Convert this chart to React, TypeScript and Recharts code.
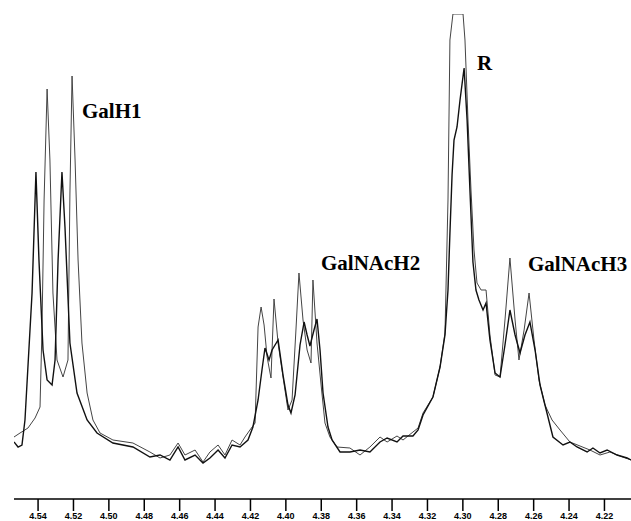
import React from "react";
import { LineChart, Line, XAxis, YAxis } from "recharts";

// chemical shift axis (ppm), high field on the right
const ppmTicks = [4.54, 4.52, 4.5, 4.48, 4.46, 4.44, 4.42, 4.4, 4.38, 4.36, 4.34, 4.32, 4.3, 4.28, 4.26, 4.24, 4.22];

// spectrum 1 (lighter trace, R peak goes off scale)
const ppmA = [
  4.5536, 4.5502, 4.5457, 4.5417, 4.5389, 4.5378, 4.5366, 4.5349, 4.5333, 4.5316, 4.5293, 4.5259, 4.5231, 4.522,
  4.5208, 4.5191, 4.5174, 4.5152, 4.5123, 4.509, 4.505, 4.4977, 4.4864, 4.4768, 4.4711, 4.4655, 4.4609, 4.457,
  4.4513, 4.4468, 4.4429, 4.4383, 4.4344, 4.4304, 4.4259, 4.4231, 4.4203, 4.4174, 4.4157, 4.414, 4.4123, 4.4106,
  4.4084, 4.4067, 4.4044, 4.4016, 4.3988, 4.3965, 4.3943, 4.3926, 4.3903, 4.388, 4.3858, 4.3847, 4.3824, 4.3801,
  4.3779, 4.3751, 4.3711,
  4.3638, 4.3581, 4.3525, 4.3468, 4.3428, 4.3372, 4.3338, 4.3282, 4.3253, 4.3225, 4.3169, 4.3129, 4.3101, 4.3084,
  4.3073, 4.3056, 4.2999, 4.2988, 4.2971, 4.2954, 4.2937, 4.292, 4.2897, 4.2869, 4.2847, 4.2818, 4.279, 4.2762,
  4.2734, 4.2705, 4.2683, 4.2654, 4.2626, 4.2598, 4.257, 4.2536, 4.2496, 4.2451, 4.2395, 4.2338, 4.2282, 4.2225,
  4.2169, 4.2112, 4.205,
];
const intA = [
  59, 63, 68, 78, 89, 166, 296, 407, 336, 203, 136, 119, 136, 303,
  420, 336, 236, 153, 103, 76, 63, 56, 53, 44, 38, 41, 53, 41,
  46, 34, 44, 51, 41, 56, 51, 59, 66, 73, 169, 189, 171, 139,
  118, 197, 153, 119, 86, 96, 166, 223, 176, 146, 133, 216, 153, 111,
  73, 59, 49,
  48, 41, 49, 59, 54, 60, 56, 64, 68, 83, 99, 129, 163, 296,
  456, 482, 482, 456, 376, 306, 246, 213, 206, 206, 161, 121, 119, 176,
  238, 176, 136, 166, 203, 156, 116, 91, 76, 66, 54, 50, 46, 41,
  44, 40, 36,
];

// spectrum 2 (darker trace)
const ppmB = [
  4.5536, 4.5513, 4.5491, 4.5474, 4.5434, 4.5412, 4.5395, 4.5372, 4.5349, 4.5321, 4.5304, 4.5287, 4.5265, 4.5248,
  4.522, 4.518, 4.5123, 4.5067, 4.4977, 4.4864, 4.4768, 4.4711, 4.4655, 4.4609, 4.457, 4.4513, 4.4468, 4.4429,
  4.4383, 4.4344, 4.4304, 4.4259, 4.4214, 4.4186, 4.4157, 4.4135, 4.4118, 4.4095, 4.4078, 4.4044, 4.4016, 4.3988,
  4.3971, 4.3948, 4.392, 4.3897, 4.388, 4.3864, 4.3841, 4.3824, 4.3807, 4.379, 4.3762, 4.3739, 4.3694,
  4.3638, 4.3581, 4.3525, 4.3468,
  4.3428, 4.3372, 4.3338, 4.3282, 4.3253, 4.3225, 4.3169, 4.3129, 4.3101, 4.3084, 4.3073, 4.3061, 4.305, 4.3033,
  4.3016, 4.2993, 4.2976, 4.296, 4.2943, 4.2926, 4.2909, 4.2886, 4.2869, 4.2847, 4.2818, 4.279, 4.2762, 4.2734,
  4.2705, 4.2677, 4.2649, 4.2621, 4.2592, 4.2564, 4.2536, 4.2491, 4.2434, 4.2395, 4.2355, 4.2298, 4.2265, 4.2225,
  4.2185, 4.2129, 4.2072, 4.205,
];
const intB = [
  54, 49, 51, 76, 203, 324, 236, 146, 116, 111, 136, 236, 324, 269,
  153, 103, 76, 63, 53, 49, 39, 41, 36, 49, 36, 41, 33, 38,
  46, 38, 51, 49, 56, 69, 96, 126, 148, 136, 146, 156, 121, 91,
  83, 101, 151, 174, 161, 150, 166, 177, 146, 103, 69, 56, 44,
  44, 46, 44, 54,
  58, 54, 60, 60, 66, 81, 99, 129, 161, 206, 263, 321, 356, 369,
  396, 428, 376, 306, 234, 206, 196, 186, 193, 156, 123, 119, 151, 186,
  161, 143, 161, 174, 146, 111, 91, 59, 51, 54, 49, 44, 48, 43,
  46, 41, 38, 36,
];

const peakLabels = [
  { text: "GalH1", x: 82, y: 118 },
  { text: "GalNAcH2", x: 321, y: 270 },
  { text: "R", x: 477, y: 70 },
  { text: "GalNAcH3", x: 528, y: 271 },
];

const specA = ppmA.map((ppm, i) => ({ ppm, v: intA[i] }));
const specB = ppmB.map((ppm, i) => ({ ppm, v: intB[i] }));

export default function App() {
  return (
    <div style={{ position: "relative", width: 631, height: 521, background: "#fff" }}>
      <style>{"body{margin:0;background:#fff}"}</style>
      <LineChart width={631} height={521} margin={{ top: 14, right: 0, bottom: 0, left: 14 }}>
        <XAxis
          dataKey="ppm"
          type="number"
          reversed
          domain={[4.205, 4.5536]}
          ticks={ppmTicks}
          allowDataOverflow
          height={22}
          tickSize={12}
          tickMargin={2}
          stroke="#000"
          strokeWidth={1.5}
          tickFormatter={(v: number) => v.toFixed(2)}
          tick={{ fontSize: 9, fontWeight: 700, fill: "#000", fontFamily: "Liberation Sans, Arial, sans-serif" }}
        />
        <YAxis hide type="number" domain={[-3, 482]} allowDataOverflow />
        <Line
          data={specA}
          dataKey="v"
          type="linear"
          stroke="#444"
          strokeWidth={1}
          dot={false}
          isAnimationActive={false}
        />
        <Line
          data={specB}
          dataKey="v"
          type="linear"
          stroke="#111"
          strokeWidth={1.4}
          dot={false}
          isAnimationActive={false}
        />
      </LineChart>
      <svg width={631} height={521} style={{ position: "absolute", left: 0, top: 0, pointerEvents: "none" }}>
        {peakLabels.map((l) => (
          <text
            key={l.text}
            x={l.x}
            y={l.y}
            fontFamily="Liberation Serif, Times New Roman, serif"
            fontWeight={700}
            fontSize={21}
            fill="#000"
          >
            {l.text}
          </text>
        ))}
      </svg>
    </div>
  );
}
